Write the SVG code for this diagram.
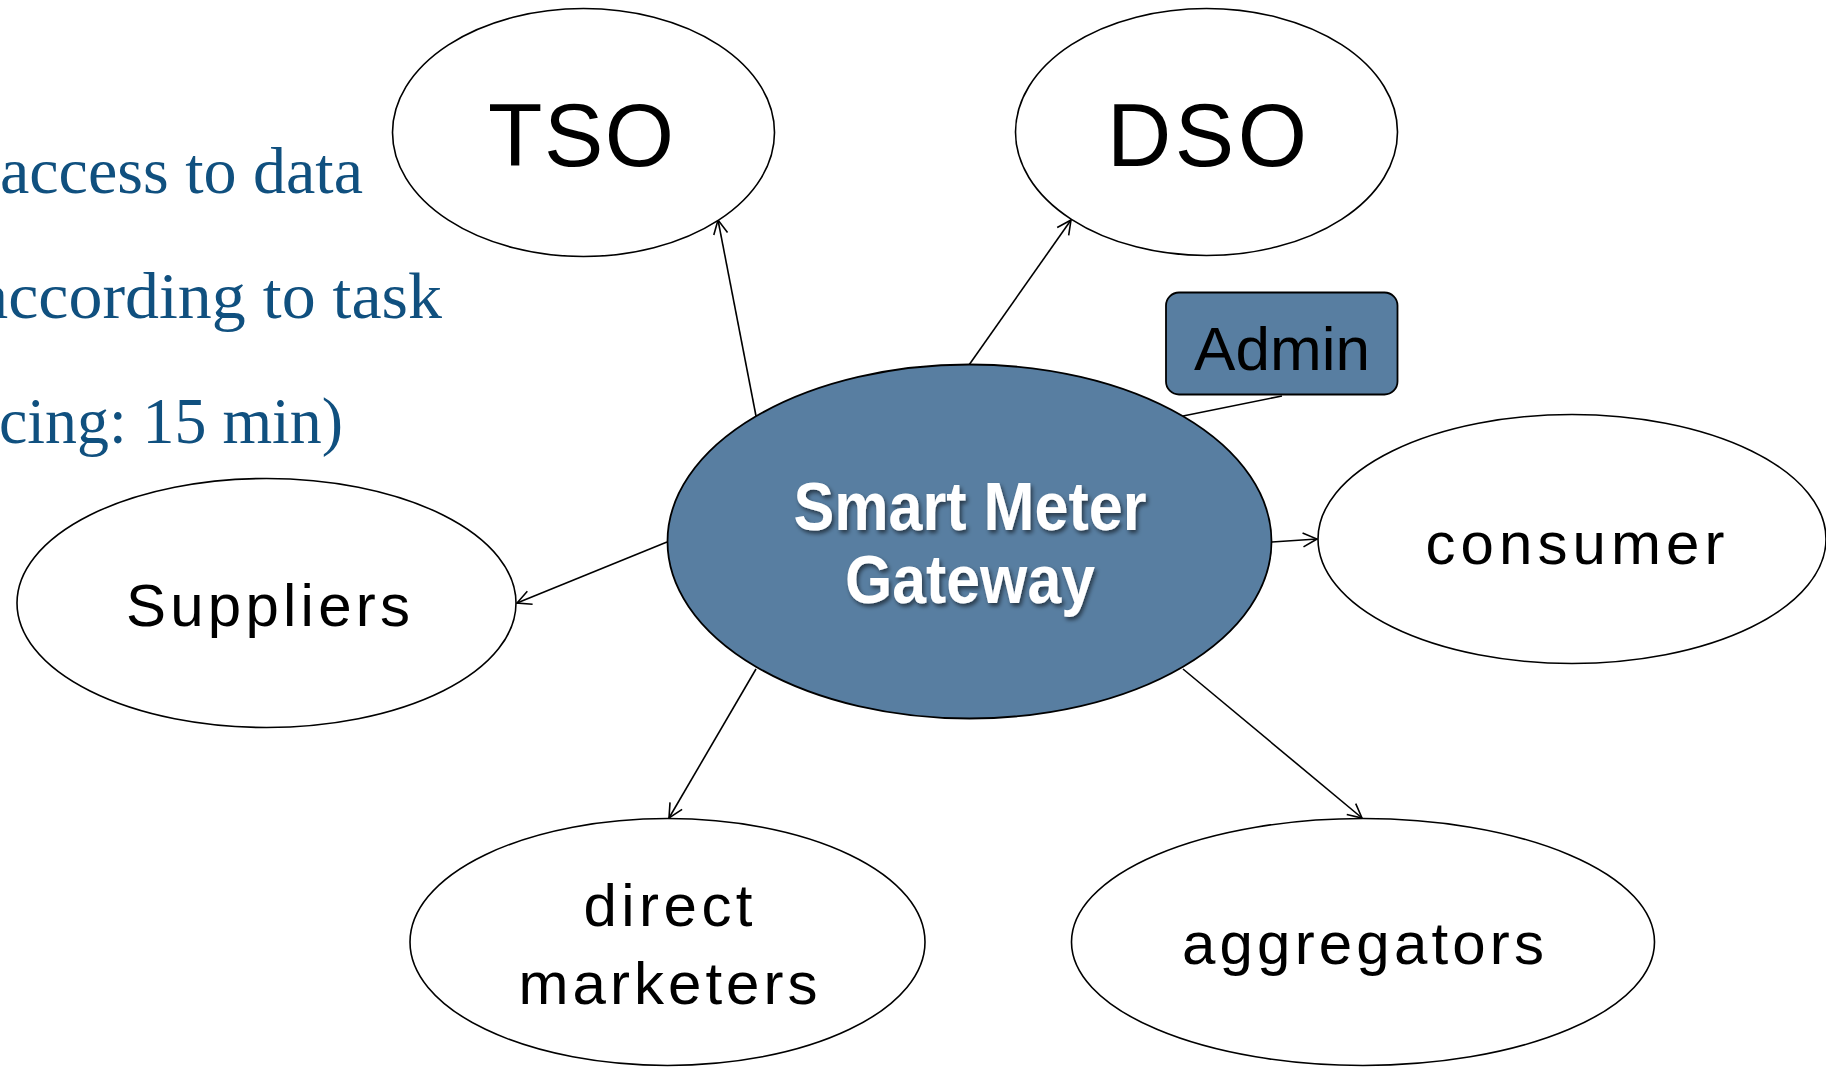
<svg xmlns="http://www.w3.org/2000/svg" width="1826" height="1067" viewBox="0 0 1826 1067">
<style>
.node{fill:#ffffff;stroke:#000000;stroke-width:1.6}
.hub{fill:#587ea1;stroke:#000000;stroke-width:1.8}
.lbl{font-family:"Liberation Sans",Arial,sans-serif;fill:#000000;text-anchor:middle}
.big{font-family:"Liberation Sans",Arial,sans-serif;fill:#000000;text-anchor:middle;font-size:89px}
.hubtxt{font-family:"Liberation Sans",Arial,sans-serif;font-weight:bold;fill:#ffffff;text-anchor:middle;font-size:68px}
.side{font-family:"Liberation Serif","Times New Roman",serif;fill:#10507f;font-size:66px}
.conn{stroke:#000000;stroke-width:1.6;fill:none}
</style>
<defs>
<marker id="arr" markerUnits="userSpaceOnUse" markerWidth="20" markerHeight="20" viewBox="0 0 20 20" refX="16" refY="10" orient="auto">
<path d="M2,3 L16,10 L2,17" fill="none" stroke="#000000" stroke-width="1.6"/>
</marker>
<filter id="sh" x="-10%" y="-10%" width="130%" height="140%">
<feDropShadow dx="2" dy="3" stdDeviation="2" flood-color="#000000" flood-opacity="0.55"/>
</filter>
</defs>
<g id="side-text">
<text class="side" x="0" y="193" textLength="363" lengthAdjust="spacingAndGlyphs">access to data</text>
<text class="side" x="-22" y="318" textLength="464" lengthAdjust="spacingAndGlyphs">according to task</text>
<text class="side" x="-1" y="443" textLength="344" lengthAdjust="spacingAndGlyphs">cing: 15 min)</text>
</g>
<g id="connectors">
<line class="conn" x1="756" y1="416" x2="718" y2="220" marker-end="url(#arr)"/>
<line class="conn" x1="969" y1="365" x2="1071" y2="220" marker-end="url(#arr)"/>
<line class="conn" x1="1183" y1="416" x2="1282" y2="396"/>
<line class="conn" x1="1272" y1="542" x2="1317" y2="539" marker-end="url(#arr)"/>
<line class="conn" x1="667" y1="542" x2="517" y2="603" marker-end="url(#arr)"/>
<line class="conn" x1="756" y1="669" x2="669" y2="818" marker-end="url(#arr)"/>
<line class="conn" x1="1183" y1="669" x2="1362" y2="818" marker-end="url(#arr)"/>
</g>
<g id="tso">
<ellipse class="node" cx="583.5" cy="132.5" rx="191" ry="124"/>
<text class="big" x="581" y="166" textLength="186" lengthAdjust="spacing">TSO</text>
</g>
<g id="dso">
<ellipse class="node" cx="1206.5" cy="132" rx="191" ry="123.5"/>
<text class="big" x="1207" y="166" textLength="200" lengthAdjust="spacing">DSO</text>
</g>
<g id="admin">
<rect x="1166" y="292.5" width="231.5" height="102" rx="13" ry="13" fill="#587ea1" stroke="#000000" stroke-width="1.8"/>
<text class="lbl" x="1282" y="370" font-size="62" textLength="176" lengthAdjust="spacingAndGlyphs">Admin</text>
</g>
<g id="gateway">
<ellipse class="hub" cx="969.5" cy="541.5" rx="302" ry="177"/>
<text class="hubtxt" x="970" y="530" textLength="353" lengthAdjust="spacingAndGlyphs" filter="url(#sh)">Smart Meter</text>
<text class="hubtxt" x="970" y="603" textLength="250" lengthAdjust="spacingAndGlyphs" filter="url(#sh)">Gateway</text>
</g>
<g id="suppliers">
<ellipse class="node" cx="266.5" cy="603" rx="249.5" ry="124.5"/>
<text class="lbl" x="268" y="626" font-size="60" textLength="284" lengthAdjust="spacing">Suppliers</text>
</g>
<g id="consumer">
<ellipse class="node" cx="1572" cy="539" rx="254" ry="124.5"/>
<text class="lbl" x="1575" y="564" font-size="60" textLength="299" lengthAdjust="spacing">consumer</text>
</g>
<g id="direct-marketers">
<ellipse class="node" cx="667.5" cy="942" rx="257.5" ry="123.5"/>
<text class="lbl" x="668" y="926" font-size="60" textLength="169" lengthAdjust="spacing">direct</text>
<text class="lbl" x="668" y="1004" font-size="60" textLength="299" lengthAdjust="spacing">marketers</text>
</g>
<g id="aggregators">
<ellipse class="node" cx="1363" cy="942" rx="291.5" ry="123.5"/>
<text class="lbl" x="1363" y="964" font-size="60" textLength="362" lengthAdjust="spacing">aggregators</text>
</g>
</svg>
